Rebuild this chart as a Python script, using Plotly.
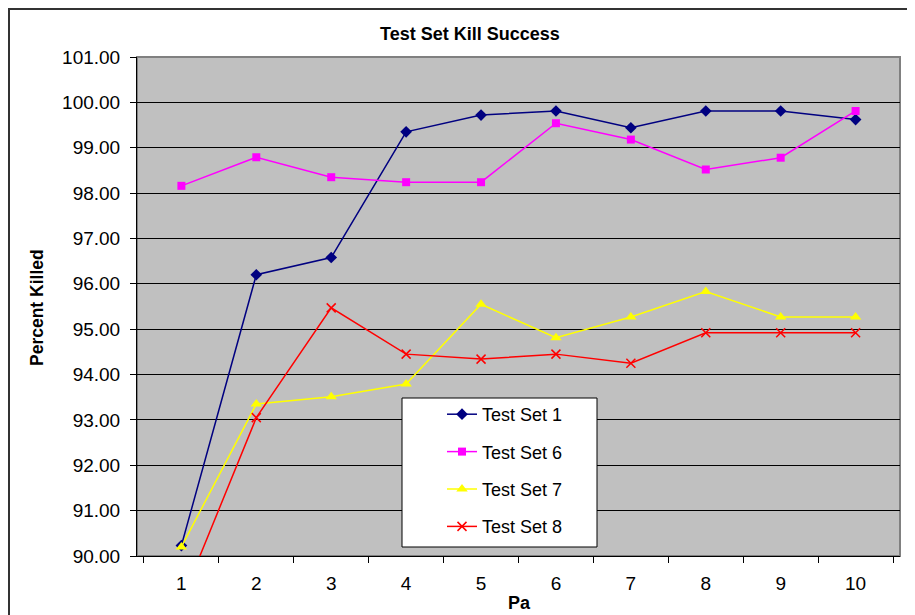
import plotly.graph_objects as go

categories = ["1", "2", "3", "4", "5", "6", "7", "8", "9", "10"]
test_set_1 = [90.23, 96.20, 96.58, 99.35, 99.72, 99.81, 99.44, 99.81, 99.81, 99.62]
test_set_6 = [98.16, 98.79, 98.35, 98.24, 98.24, 99.54, 99.18, 98.52, 98.78, 99.81]
test_set_7 = [90.20, 93.35, 93.51, 93.79, 95.55, 94.81, 95.27, 95.83, 95.27, 95.27]
test_set_8 = [89.00, 93.05, 95.47, 94.45, 94.34, 94.45, 94.25, 94.92, 94.92, 94.92]
y_ticks = [90, 91, 92, 93, 94, 95, 96, 97, 98, 99, 100, 101]

FONT = "Liberation Sans, Arial, sans-serif"

series = [
    ("Test Set 1", test_set_1, "#000080", "diamond", 9, 1.5),
    ("Test Set 6", test_set_6, "#FF00FF", "square", 8, 1.5),
    ("Test Set 7", test_set_7, "#FFFF00", "triangle-up", 10, 1.5),
    ("Test Set 8", test_set_8, "#FF0000", "x-thin", 9, 1.5),
]

fig = go.Figure()
for i, (name, vals, color, sym, size, lw) in enumerate(series):
    marker = dict(symbol=sym, size=size, color=color)
    if sym == "x-thin":
        marker["line"] = dict(color=color, width=1.5)
    fig.add_trace(go.Scatter(
        x=categories, y=vals, name=name, mode="lines+markers",
        line=dict(color=color, width=lw), marker=marker,
        legendgroup=f"g{i}",
    ))

# page body has an 8px margin: design in screen pixels, shift by 8
OFF = 8
W, H = 915 - OFF, 615 - OFF
PL, PR, PT, PB = 137, 900, 57, 556  # plot area in screen pixels
L = PL - OFF
T = PT - OFF
R = W - (PR - OFF)
B = H - (PB - OFF)
pw = PR - PL
ph = PB - PT


def px_x(x):
    return (x - PL) / pw


def px_y(y):
    return (PB - y) / ph


fig.update_layout(
    width=W, height=H,
    margin=dict(l=L, r=R, t=T, b=B),
    paper_bgcolor="white",
    plot_bgcolor="#C0C0C0",
    font=dict(family=FONT, size=18, color="black"),
    showlegend=True,
    legend=dict(
        x=px_x(442), y=px_y(396), xanchor="left", yanchor="top",
        bgcolor="rgba(0,0,0,0)", borderwidth=0,
        font=dict(size=18, family=FONT), tracegroupgap=11,
        itemwidth=30,
    ),
    xaxis=dict(
        type="category", categoryorder="array", categoryarray=categories,
        showgrid=False, ticks="outside", ticklen=6, tickcolor="black",
        tickson="boundaries", showline=True, linecolor="black", linewidth=1,
        tickfont=dict(size=19), zeroline=False, ticklabelstandoff=10,
    ),
    yaxis=dict(
        range=[90, 101], tickvals=y_ticks, tickformat=".2f",
        showgrid=True, gridcolor="black", gridwidth=1,
        ticks="outside", ticklen=6, tickcolor="black",
        showline=True, linecolor="black", linewidth=1,
        tickfont=dict(size=19), zeroline=False, ticklabelstandoff=6,
    ),
    shapes=[
        # plot area border
        dict(type="rect", xref="paper", yref="paper", x0=0, y0=0, x1=1, y1=1,
             line=dict(color="#808080", width=2), layer="below"),
        # chart outer border
        dict(type="rect", xref="paper", yref="paper",
             x0=px_x(9), y0=px_y(640), x1=px_x(940), y1=px_y(9),
             line=dict(color="#333333", width=2), layer="above"),
        # legend box
        dict(type="rect", xref="paper", yref="paper",
             x0=px_x(402), y0=px_y(547), x1=px_x(597), y1=px_y(398),
             line=dict(color="black", width=1), fillcolor="white", layer="above"),
    ],
    annotations=[
        dict(text="<b>Test Set Kill Success</b>", xref="paper", yref="paper",
             x=px_x(470), y=px_y(34), xanchor="center", yanchor="middle",
             showarrow=False, font=dict(size=18, family=FONT)),
        dict(text="<b>Percent Killed</b>", xref="paper", yref="paper",
             x=px_x(37), y=px_y(308), xanchor="center", yanchor="middle",
             textangle=-90, showarrow=False, font=dict(size=17.5, family=FONT)),
        dict(text="<b>Pa</b>", xref="paper", yref="paper",
             x=px_x(519), y=px_y(603), xanchor="center", yanchor="middle",
             showarrow=False, font=dict(size=18, family=FONT)),
    ],
)

fig.write_html("out.html")
